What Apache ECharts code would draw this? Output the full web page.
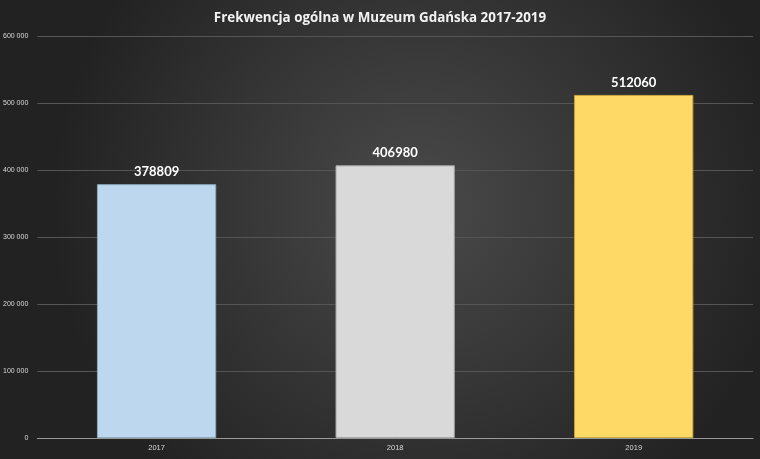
<!DOCTYPE html>
<html><head><meta charset="utf-8">
<script src="https://cdn.jsdelivr.net/npm/echarts@6/dist/echarts.min.js"></script>
<style>html,body{margin:0;padding:0;background:#333;}#c{width:760px;height:459px;}</style>
</head><body><div id="c"></div>
<script>
const categories = ['2017', '2018', '2019'];
const values = [378809, 406980, 512060];
const barColors = ['#BDD7EE', '#D9D9D9', '#FFD966'];
const borderColors = ['#8fa9bf', '#a6a6a6', '#c9a640'];
const titleText = 'Frekwencja ogólna w Muzeum Gdańska 2017-2019';

const chart = echarts.init(document.getElementById('c'));
chart.setOption({
  backgroundColor: {
    type: 'radial', x: 0.55, y: 0.45, r: 0.8,
    colorStops: [{offset: 0, color: '#4a4a4a'}, {offset: 1, color: '#222222'}]
  },
  title: {
    text: titleText, left: 'center', top: 7,
    textStyle: {color: '#f2f2f2', fontFamily: 'Open Sans', fontWeight: 'bold', fontSize: 13.4}
  },
  grid: {left: 37, right: 7, top: 36, bottom: 21, containLabel: false},
  xAxis: {
    type: 'category', data: categories,
    axisLine: {lineStyle: {color: '#9a9a9a', width: 1}},
    axisTick: {show: false},
    axisLabel: {color: '#d9d9d9', fontSize: 7.5, fontFamily: 'Liberation Sans', margin: 6}
  },
  yAxis: {
    type: 'value', min: 0, max: 600000, interval: 100000,
    axisLine: {show: false}, axisTick: {show: false},
    splitLine: {lineStyle: {color: '#555555', width: 1}},
    axisLabel: {
      color: '#d9d9d9', fontSize: 7, fontFamily: 'Liberation Sans', margin: 9,
      formatter: v => v === 0 ? '0' : String(v).replace(/\B(?=(\d{3})+(?!\d))/g, ' ')
    }
  },
  series: [{
    type: 'bar', barWidth: '50%',
    data: values.map((v, i) => ({value: v, itemStyle: {color: barColors[i], borderColor: borderColors[i], borderWidth: 1}})),
    label: {
      show: true, position: 'top', distance: 6,
      color: '#ffffff', fontWeight: 'bold', fontSize: 13, fontFamily: 'Lato'
    }
  }]
});
</script></body></html>
